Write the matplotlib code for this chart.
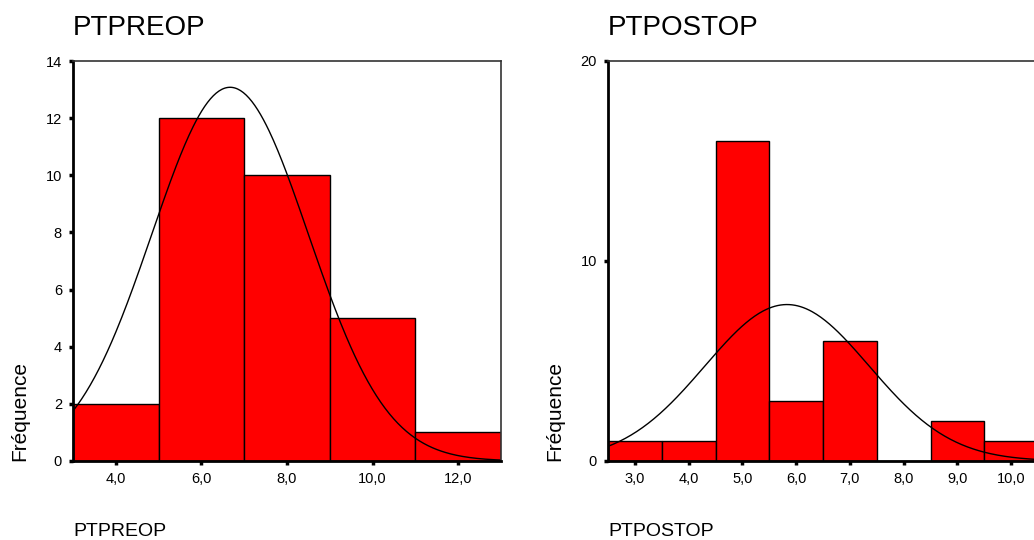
import numpy as np
import matplotlib.pyplot as plt

plt.rcParams['font.family'] = ['Liberation Sans', 'DejaVu Sans']

# PTPREOP histogram (bin width 2)
pre_edges = [3, 5, 7, 9, 11, 13]
pre_counts = [2, 12, 10, 5, 1]
pre_mean, pre_sd = 6.67, 1.83
pre_ticks = [4, 6, 8, 10, 12]
pre_ticklabels = ['4,0', '6,0', '8,0', '10,0', '12,0']

# PTPOSTOP histogram (bin width 1)
post_edges = [2.5, 3.5, 4.5, 5.5, 6.5, 7.5, 8.5, 9.5, 10.5]
post_counts = [1, 1, 16, 3, 6, 0, 2, 1]
post_mean, post_sd = 5.83, 1.53
post_ticks = [3, 4, 5, 6, 7, 8, 9, 10]
post_ticklabels = ['3,0', '4,0', '5,0', '6,0', '7,0', '8,0', '9,0', '10,0']

W, H = 1034, 540
fig = plt.figure(figsize=(W / 100, H / 100), dpi=100)


def histo(rect, edges, counts, mean, sd, ylim, yticks, xticks, xlabels, title, xname, ylab_x):
    ax = fig.add_axes(rect)
    edges = np.array(edges, dtype=float)
    ax.bar(edges[:-1], counts, width=np.diff(edges), align='edge',
           color='#ff0000', edgecolor='black', linewidth=1.0)
    n = sum(counts)
    bw = edges[1] - edges[0]
    # fitted normal curve, scaled to counts
    xs = np.linspace(edges[0], edges[-1], 300)
    ys = n * bw / (sd * np.sqrt(2 * np.pi)) * np.exp(-(xs - mean) ** 2 / (2 * sd ** 2))
    ax.plot(xs, ys, color='black', linewidth=1.0)
    ax.set_xlim(edges[0], edges[-1])
    ax.set_ylim(*ylim)
    ax.set_yticks(yticks)
    ax.set_xticks(xticks)
    ax.set_xticklabels(xlabels)
    ax.tick_params(axis='both', length=3, width=2.5, color='black', labelsize=10.5, pad=5)
    for s in ['left', 'bottom']:
        ax.spines[s].set_linewidth(2)
    for s in ['top', 'right']:
        ax.spines[s].set_linewidth(1.2)
        ax.spines[s].set_color('#333333')
    fig.text(rect[0], 1 - 35 / H, title, fontsize=20, va='baseline', ha='left')
    fig.text(rect[0], 4 / H, xname, fontsize=14, va='baseline', ha='left')
    fig.text(ylab_x / W, rect[1], 'Fréquence', fontsize=15, rotation=90,
             va='bottom', ha='center')
    return ax


histo([73 / W, 1 - 461 / H, (501 - 73) / W, 400 / H], pre_edges, pre_counts,
      pre_mean, pre_sd, (0, 14), [0, 2, 4, 6, 8, 10, 12, 14], pre_ticks,
      pre_ticklabels, 'PTPREOP', 'PTPREOP', 20)

histo([608 / W, 1 - 461 / H, (1038 - 608) / W, 400 / H], post_edges, post_counts,
      post_mean, post_sd, (0, 20), [0, 10, 20], post_ticks,
      post_ticklabels, 'PTPOSTOP', 'PTPOSTOP', 555)

fig.savefig('out.png', dpi=100)
